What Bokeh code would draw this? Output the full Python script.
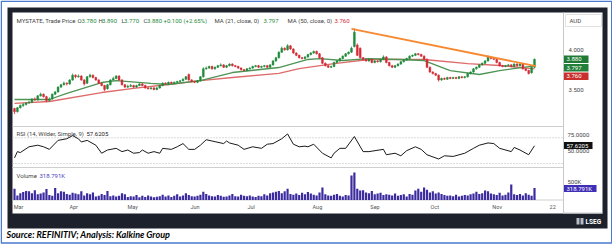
from bokeh.plotting import figure
from bokeh.models import Range1d
from bokeh.embed import file_html
from bokeh.resources import INLINE
from bokeh.core.properties import value

# ---------------- data ----------------
opens = [3.26,3.22,3.27,3.30,3.31,3.33,3.34,3.38,3.37,3.42,3.44,3.41,3.36,3.38,3.44,3.47,3.53,3.56,3.58,3.57,
         3.62,3.68,3.66,3.67,3.62,3.58,3.66,3.68,3.65,3.62,3.58,3.55,3.51,3.56,3.62,3.64,3.67,3.62,3.56,3.53,
         3.54,3.55,3.53,3.55,3.57,3.55,3.52,3.51,3.52,3.50,3.52,3.55,3.58,3.57,3.59,3.58,3.59,3.60,3.61,3.63,
         3.69,3.62,3.60,3.59,3.61,3.66,3.76,3.77,3.79,3.76,3.78,3.80,3.81,3.78,3.80,3.82,3.80,3.79,3.77,3.75,
         3.74,3.76,3.77,3.79,3.80,3.78,3.79,3.80,3.78,3.81,3.86,3.90,3.97,4.02,4.00,4.05,4.01,3.96,3.93,3.90,
         3.89,3.91,3.94,3.96,3.98,3.95,3.90,3.83,3.80,3.78,3.79,3.84,3.86,3.89,3.92,3.95,3.97,4.04,4.06,4.02,
         3.90,3.88,3.86,3.88,3.84,3.86,3.85,3.88,3.91,3.84,3.80,3.78,3.80,3.82,3.85,3.87,3.89,3.92,3.93,3.95,
         3.94,3.92,3.88,3.78,3.72,3.70,3.68,3.62,3.64,3.63,3.65,3.64,3.65,3.64,3.66,3.65,3.66,3.70,3.72,3.76,
         3.78,3.81,3.83,3.86,3.91,3.89,3.88,3.84,3.80,3.79,3.80,3.81,3.79,3.82,3.80,3.82,3.76,3.74,3.71,3.78]
highs = [3.27,3.28,3.31,3.33,3.34,3.36,3.39,3.40,3.43,3.46,3.45,3.42,3.40,3.45,3.48,3.54,3.57,3.60,3.59,3.63,
         3.70,3.69,3.69,3.68,3.63,3.67,3.70,3.69,3.66,3.63,3.59,3.56,3.57,3.63,3.66,3.68,3.68,3.63,3.57,3.56,
         3.57,3.56,3.56,3.58,3.58,3.56,3.53,3.53,3.53,3.53,3.56,3.59,3.59,3.60,3.60,3.60,3.61,3.62,3.64,3.67,
         3.70,3.63,3.61,3.62,3.67,3.78,3.79,3.80,3.80,3.79,3.81,3.83,3.82,3.81,3.83,3.83,3.81,3.80,3.78,3.76,
         3.77,3.78,3.80,3.81,3.81,3.80,3.81,3.81,3.82,3.87,3.91,3.98,4.04,4.03,4.07,4.06,4.02,3.97,3.94,3.91,
         3.92,3.95,3.97,3.99,3.99,3.96,3.91,3.84,3.81,3.80,3.85,3.87,3.90,3.93,3.96,3.98,4.04,4.27,4.08,4.03,
         3.91,3.89,3.89,3.89,3.87,3.87,3.89,3.93,3.92,3.85,3.81,3.81,3.83,3.86,3.88,3.90,3.93,3.94,3.96,3.96,
         3.95,3.93,3.89,3.79,3.73,3.71,3.69,3.65,3.65,3.66,3.66,3.66,3.66,3.67,3.67,3.67,3.71,3.73,3.77,3.79,
         3.82,3.84,3.87,3.93,3.92,3.90,3.89,3.85,3.81,3.81,3.82,3.82,3.83,3.83,3.83,3.83,3.77,3.75,3.79,3.89]
lows = [3.19,3.21,3.26,3.28,3.30,3.32,3.33,3.36,3.36,3.41,3.40,3.34,3.35,3.37,3.43,3.46,3.52,3.55,3.55,3.56,
        3.61,3.64,3.65,3.61,3.55,3.57,3.65,3.64,3.61,3.57,3.54,3.48,3.50,3.55,3.61,3.63,3.61,3.55,3.52,3.52,
        3.53,3.52,3.52,3.54,3.54,3.51,3.50,3.50,3.49,3.49,3.51,3.54,3.56,3.56,3.57,3.57,3.58,3.59,3.60,3.62,
        3.61,3.59,3.58,3.58,3.60,3.65,3.75,3.76,3.75,3.75,3.77,3.79,3.77,3.77,3.79,3.79,3.78,3.76,3.74,3.73,
        3.73,3.75,3.76,3.78,3.77,3.77,3.78,3.77,3.77,3.80,3.85,3.89,3.96,3.99,3.99,4.00,3.95,3.92,3.89,3.88,
        3.88,3.90,3.93,3.95,3.94,3.89,3.82,3.79,3.77,3.77,3.78,3.83,3.85,3.88,3.91,3.94,3.96,4.03,3.92,3.89,
        3.86,3.85,3.85,3.83,3.83,3.84,3.84,3.87,3.83,3.79,3.77,3.77,3.79,3.81,3.84,3.86,3.88,3.91,3.92,3.93,
        3.91,3.87,3.77,3.71,3.69,3.67,3.60,3.61,3.62,3.62,3.63,3.63,3.63,3.63,3.64,3.64,3.65,3.69,3.71,3.75,
        3.77,3.80,3.82,3.85,3.88,3.87,3.83,3.79,3.78,3.78,3.79,3.78,3.78,3.79,3.79,3.75,3.73,3.69,3.70,3.77]
closes = [3.22,3.27,3.30,3.31,3.33,3.34,3.38,3.37,3.42,3.44,3.41,3.36,3.38,3.44,3.47,3.53,3.56,3.58,3.57,3.62,
          3.68,3.66,3.67,3.62,3.57,3.66,3.68,3.65,3.62,3.58,3.55,3.50,3.56,3.62,3.64,3.67,3.62,3.56,3.53,3.54,
          3.55,3.53,3.55,3.57,3.55,3.52,3.51,3.52,3.50,3.52,3.55,3.58,3.57,3.59,3.58,3.59,3.60,3.61,3.63,3.66,
          3.62,3.60,3.59,3.61,3.66,3.76,3.77,3.79,3.76,3.78,3.80,3.81,3.78,3.80,3.82,3.80,3.79,3.77,3.75,3.74,
          3.76,3.77,3.79,3.80,3.78,3.79,3.80,3.78,3.81,3.86,3.90,3.97,4.02,4.00,4.05,4.01,3.96,3.93,3.90,3.89,
          3.91,3.94,3.96,3.98,3.95,3.90,3.83,3.80,3.78,3.79,3.84,3.86,3.89,3.92,3.95,3.97,4.02,4.22,3.93,3.90,
          3.88,3.86,3.88,3.84,3.86,3.85,3.88,3.91,3.84,3.80,3.78,3.80,3.82,3.85,3.87,3.89,3.92,3.93,3.95,3.94,
          3.92,3.88,3.78,3.72,3.70,3.68,3.62,3.64,3.63,3.65,3.64,3.65,3.64,3.66,3.65,3.66,3.70,3.72,3.76,3.78,
          3.81,3.83,3.86,3.91,3.89,3.88,3.84,3.80,3.79,3.80,3.81,3.79,3.82,3.80,3.82,3.76,3.74,3.70,3.78,3.88]
volume_k = [300,120,180,210,240,230,180,260,150,170, 200,290,130,110,320,180,230,220,160,140,
            190,170,150,230,120,180,150,200,90,110, 160,130,240,100,120,90,110,180,150,80,
            100,90,130,70,110,80,120,95,70,85, 100,140,90,120,80,110,150,95,120,180,
            130,100,90,110,140,220,160,120,100,90, 130,110,85,95,120,160,100,90,140,110,
            100,120,90,80,110,100,150,120,180,200, 220,240,180,230,300,160,140,170,130,190,
            150,210,170,140,120,200,330,150,120,110, 140,160,110,90,130,120,650,730,300,250,
            260,200,180,240,150,170,190,130,150,140, 120,170,110,130,150,90,160,140,250,300,
            220,330,270,200,230,170,200,160,130,110, 120,100,140,90,110,130,120,150,170,220,
            160,180,250,230,170,150,130,190,120,140, 200,410,150,130,160,120,180,140,110,319]

ma21_day = [0, 12, 18, 30, 35, 47, 53, 64, 75, 91, 101, 105, 113, 122, 133, 141, 150, 160, 167, 179]
ma21 = [3.374, 3.374, 3.450, 3.588, 3.613, 3.576, 3.563, 3.613, 3.714, 3.777, 3.878, 3.890, 3.865,
        3.890, 3.878, 3.865, 3.739, 3.689, 3.739, 3.797]
ma50_day = [0, 12, 30, 41, 53, 64, 75, 91, 98, 110, 122, 141, 156, 167, 179]
ma50 = [3.324, 3.349, 3.462, 3.513, 3.563, 3.613, 3.651, 3.702, 3.764, 3.827, 3.878, 3.878, 3.827, 3.802, 3.760]

rsi_day = [0,1,2,5,8,10,12,15,18,20,22,23,25,28,30,32,35,37,39,41,43,44,46,48,50,51,54,56,58,60,62,64,66,68,
           72,73,74,77,79,82,85,87,89,92,94,96,98,100,101,103,106,109,110,112,114,117,120,122,127,128,131,133,
           135,138,140,142,146,148,151,155,158,160,163,165,167,171,172,174,177,179]
rsi = [38.7,48.5,47,56,58.5,56,52,66,68.5,73.4,68.5,63.5,66,58.5,46,51,53.6,48.5,51,46,47,51,46,48.5,46,53.6,
       52,56,61,52,52,58.5,67,65,61,65,62,58.5,52,56,53.6,60,61,68.5,76,60,56,57,56,60,46,38.7,46,53.6,53.6,
       72,48.5,48.5,52,43.6,46,42,50,56,52,43.6,37,42,41,46,53.6,58.5,62,61,53.6,48.5,55,51,43.6,57.6205]

trend_day = [116, 179.5]
trend_price = [4.265, 3.795]

month_labels = ["Mar", "Apr", "May", "Jun", "Jul", "Aug", "Sep", "Oct", "Nov", "22"]
month_ticks = [-0.3, 18.9, 38.9, 60.6, 80.2, 102.6, 122.5, 143.2, 164.5, 184.2]
price_ticks = [4.0, 3.5]
price_tick_labels = ["4.000", "3.500"]
rsi_ticks = [75, 50]
rsi_tick_labels = ["75.0000", "50.0000"]
vol_ticks = [500]
vol_tick_labels = ["500K"]

# ---------------- layout / styles ----------------
W, H = 612, 244
DAY_X0, DAY_PX = 14, 2.905
FONT = value("Roboto")
GREEN, RED = "#1f8a3b", "#d42a35"
DARK = "#1c212c"
TXT = "#444444"

p = figure(width=W, height=H, x_range=Range1d(0, W), y_range=Range1d(H, 0),
           x_axis_type=None, y_axis_type=None, output_backend="svg",
           toolbar_location=None, min_border=0)
p.outline_line_color = None
p.background_fill_color = "white"
p.border_fill_color = "white"


def vrange(v, ypx, ppu):
    hi = v + ypx / ppu
    return Range1d(hi - H / ppu, hi)


p.extra_x_ranges = {"day": Range1d(-DAY_X0 / DAY_PX, (W - DAY_X0) / DAY_PX)}
p.extra_y_ranges = {"price": vrange(4.0, 49.3, 79.4),
                    "rsi": vrange(70, 137.3, 0.6425),
                    "vol": vrange(0, 199.5, 0.0376)}

# frame decorations
p.quad(left=[7], right=[607], top=[7], bottom=[228], fill_color=DARK, line_color=None)
p.quad(left=[12], right=[602], top=[12], bottom=[213], fill_color="white", line_color=None)
p.quad(left=[0.75], right=[611.25], top=[0.75], bottom=[242.5], fill_color=None,
       line_color="#4a7bd0", line_width=1.5)
# separators
p.segment(x0=[12, 12, 12], y0=[126, 167, 199.5], x1=[563, 563, 563], y1=[126, 167, 199.5],
          line_color="#cfcfcf", line_width=1)
p.segment(x0=[563], y0=[12], x1=[563], y1=[213], line_color="#c8c8c8", line_width=1)
p.segment(x0=[563], y0=[212.5], x1=[602], y1=[212.5], line_color="#c8c8c8", line_width=1)

# RSI guide lines
p.segment(x0=[12, 12], y0=[70, 30], x1=[563, 563], y1=[70, 30], y_range_name="rsi",
          line_color="#b5b5b5", line_width=1, line_dash="1 2")

days = list(range(len(closes)))
# volume
p.vbar(x=days, top=volume_k, bottom=0, width=0.75, x_range_name="day", y_range_name="vol",
       fill_color="#3b2b9f", line_color=None)

# moving averages
p.line(ma50_day, ma50, x_range_name="day", y_range_name="price", line_color="#df6a6a", line_width=1.3)
p.line(ma21_day, ma21, x_range_name="day", y_range_name="price", line_color="#4f9455", line_width=1.3)

# candles
cols = [GREEN if c >= o else RED for o, c in zip(opens, closes)]
p.segment(x0=days, y0=lows, x1=days, y1=highs, x_range_name="day", y_range_name="price",
          line_color=cols, line_width=0.8)
p.vbar(x=days, top=[max(o, c) for o, c in zip(opens, closes)],
       bottom=[min(o, c) for o, c in zip(opens, closes)], width=0.62,
       x_range_name="day", y_range_name="price", fill_color=cols, line_color=cols, line_width=0.5)

# trend line
p.line(trend_day, trend_price, x_range_name="day", y_range_name="price", line_color="#f7882f",
       line_width=1.8)

# RSI
p.line(rsi_day, rsi, x_range_name="day", y_range_name="rsi", line_color="#1a1a1a", line_width=1)


def txt(x, y, s, color=TXT, size="6px", **kw):
    p.text(x=x if isinstance(x, list) else [x], y=y if isinstance(y, list) else [y],
           text=s if isinstance(s, list) else [s], text_font=FONT, text_font_size=size,
           text_color=color, text_baseline="middle", text_align=kw.pop("align", "left"), **kw)


# header
txt(16, 20, "MYSTATE, Trade Price")
for xl, xv, lab, val in [(77, 81, "O", "3.780"), (98, 101.5, "H", "3.890"),
                         (121, 123.5, "L", "3.770"), (143, 146.5, "C", "3.880")]:
    txt(xl, 20, lab)
    txt(xv, 20, val, color=GREEN)
txt(163, 20, "+0.100 (+2.65%)", color=GREEN)
txt(214, 20, "MA (21, close, 0)")
txt(263, 20, "3.797", color=GREEN)
txt(287, 20, "MA (50, close, 0)")
txt(334, 20, "3.760", color=RED)

txt(16, 133, "RSI (14, Wilder, Simple, 9)")
txt(86, 133, "57.6205", color="#222222")
txt(16, 175, "Volume")
txt(39, 175, "318.791K", color="#4b3bc0")

# right scale
p.quad(left=[565], right=[601], top=[14], bottom=[26], fill_color="white", line_color="#e2e2e2")
txt(569, 20, "AUD")
p.text(x=[568] * len(price_ticks), y=price_ticks, text=price_tick_labels, y_range_name="price",
       text_font=FONT, text_font_size="6px", text_color=TXT, text_baseline="middle")
p.text(x=[567] * len(rsi_ticks), y=rsi_ticks, text=rsi_tick_labels, y_range_name="rsi",
       text_font=FONT, text_font_size="6px", text_color=TXT, text_baseline="middle")
p.text(x=[567] * len(vol_ticks), y=vol_ticks, text=vol_tick_labels, y_range_name="vol",
       text_font=FONT, text_font_size="6px", text_color=TXT, text_baseline="middle")

for top, bot, right, col, s in [(55, 62.5, 588, "#1e7a34", "3.880"),
                                (63.5, 71, 588, "#23803a", "3.797"),
                                (72, 79.5, 588, "#c9302c", "3.760"),
                                (141.5, 148.5, 592, "#111111", "57.6205"),
                                (184.5, 191.5, 596, "#3f2fb6", "318.791K")]:
    p.quad(left=[563.5], right=[right], top=[top], bottom=[bot], fill_color=col, line_color=None)
    txt(566, (top + bot) / 2, s, color="white")

# date axis
p.text(x=month_ticks, y=[206] * len(month_ticks), text=month_labels, x_range_name="day",
       text_font=FONT, text_font_size="5.5px", text_color="#555555", text_baseline="middle")

# LSEG footer
p.quad(left=[576, 580], right=[579, 583], top=[217.5, 217.5], bottom=[224, 224],
       fill_color="#b8bcc4", line_color=None)
txt(585, 221, "LSEG", color="white", size="6.5px", text_font_style="bold")

# source
p.text(x=[6], y=[234], text=["Source: REFINITIV; Analysis: Kalkine Group"], text_font=value("Lato"),
       text_font_size="9px", text_font_style="bold italic", text_color="black", text_baseline="middle")

open("out.html", "w").write(file_html(p, INLINE))
